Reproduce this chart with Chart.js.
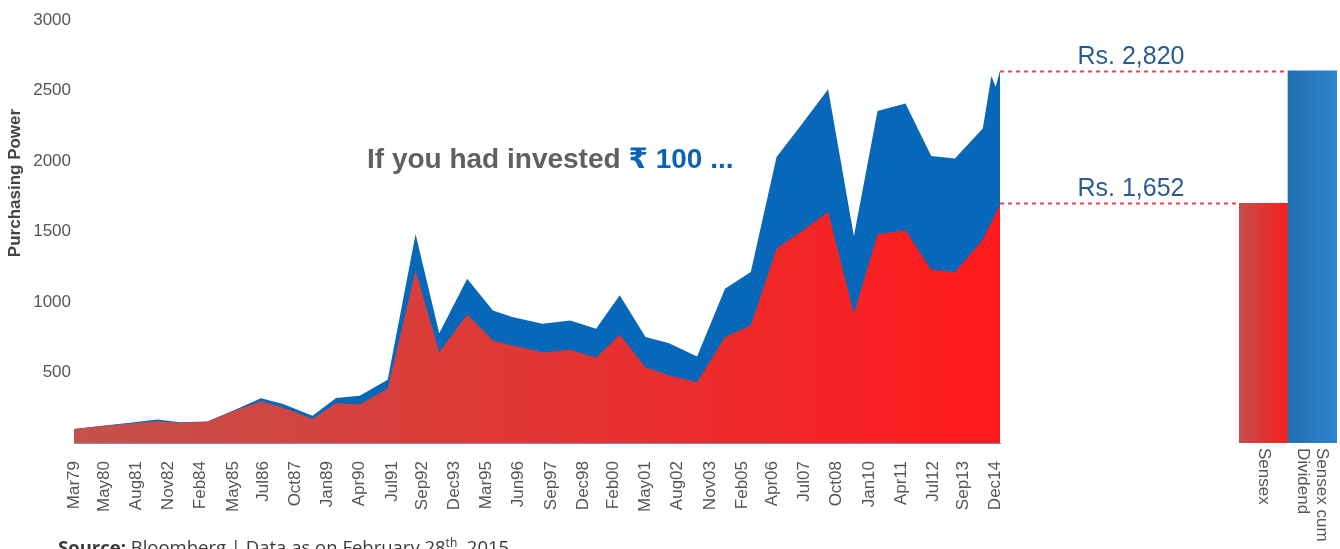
<!DOCTYPE html>
<html lang="en">
<head>
    <meta charset="UTF-8">
    <title>Purchasing Power</title>
    <style>
        html, body { margin: 0; padding: 0; background: #fff; overflow: hidden; }
        #wrap { position: relative; width: 1340px; height: 549px; }
        #areaBox { position: absolute; left: 0; top: 0; }
        #barBox { position: absolute; left: 1000px; top: 0; }
    </style>
</head>
<body>
    <div id="wrap">
        <div id="areaBox"><canvas id="areaChart" width="1010" height="549"></canvas></div>
        <div id="barBox"><canvas id="barChart" width="340" height="549"></canvas></div>
    </div>

    <script src="https://cdn.jsdelivr.net/npm/chart.js"></script>

    <script>
        // months since Mar 1979
        const months = [0, 12, 25, 39, 49, 62, 75, 87, 97, 111, 122, 133, 146, 159, 170, 183, 195, 204, 218, 231,
            243, 254, 266, 277, 290, 303, 315, 327, 339, 351, 363, 374, 387, 399, 410, 423, 427, 429, 431];
        // Sensex
        const sensex = [100, 118, 136, 154, 143, 150, 230, 294, 254, 171, 282, 273, 384, 1224, 644, 912, 727, 692, 644, 661,
            604, 767, 538, 479, 431, 751, 834, 1378, 1505, 1639, 917, 1480, 1509, 1229, 1213, 1442, 1565, 1630, 1690];
        // Sensex cum dividend
        const sensexDiv = [100, 120, 142, 166, 148, 153, 236, 318, 278, 194, 320, 335, 448, 1480, 779, 1165, 940, 893, 846, 869,
            810, 1047, 751, 708, 614, 1094, 1212, 2029, 2266, 2508, 1466, 2354, 2408, 2036, 2018, 2231, 2602, 2527, 2640];

        const tickMonths = [0, 14, 29, 44, 59, 74, 88, 103, 118, 133, 148, 162, 177, 192, 207, 222, 237, 251, 266, 281,
            296, 311, 325, 340, 355, 370, 385, 400, 414, 429];
        const tickLabels = ['Mar79', 'May80', 'Aug81', 'Nov82', 'Feb84', 'May85', 'Jul86', 'Oct87', 'Jan89', 'Apr90',
            'Jul91', 'Sep92', 'Dec93', 'Mar95', 'Jun96', 'Sep97', 'Dec98', 'Feb00', 'May01', 'Aug02',
            'Nov03', 'Feb05', 'Apr06', 'Jul07', 'Oct08', 'Jan10', 'Apr11', 'Jul12', 'Sep13', 'Dec14'];

        // bars on the right
        const barLabels = [['Sensex'], ['Sensex cum', 'Dividend']];
        const barValues = [1700, 2640];
        const barTexts = ['Rs. 1,652', 'Rs. 2,820'];

        Chart.defaults.font.family = '"Liberation Sans", Arial, sans-serif';
        Chart.defaults.font.size = 17;
        Chart.defaults.color = '#555';

        function redFill(c) {
            const a = c.chart.chartArea;
            if (!a) return '#d83a3a';
            const g = c.chart.ctx.createLinearGradient(a.left, 0, a.right, 0);
            g.addColorStop(0, '#c4524c');
            g.addColorStop(1, '#ff191c');
            return g;
        }

        const textPlugin = {
            id: 'texts',
            afterDraw(chart) {
                const ctx = chart.ctx;
                ctx.save();
                // y axis title
                ctx.translate(15, 183);
                ctx.rotate(-Math.PI / 2);
                ctx.font = 'bold 17px "Liberation Sans", Arial, sans-serif';
                ctx.fillStyle = '#444';
                ctx.textAlign = 'center';
                ctx.textBaseline = 'middle';
                ctx.fillText('Purchasing Power', 0, 0);
                ctx.restore();

                ctx.save();
                ctx.textBaseline = 'alphabetic';
                ctx.textAlign = 'left';
                ctx.font = 'bold 28px "Liberation Sans", "DejaVu Sans", sans-serif';
                ctx.fillStyle = '#606060';
                const part1 = 'If you had invested ';
                ctx.fillText(part1, 367, 168);
                const w = ctx.measureText(part1).width;
                ctx.fillStyle = '#0a64b4';
                ctx.fillText('\u20B9 100 ...', 367 + w, 168);

                // source line
                ctx.fillStyle = '#3a3a3a';
                ctx.font = 'bold 18.5px "Open Sans", sans-serif';
                let x = 58;
                ctx.fillText('Source:', x, 554);
                x += ctx.measureText('Source: ').width;
                ctx.font = '18.5px "Open Sans", sans-serif';
                const s1 = 'Bloomberg | Data as on February 28';
                ctx.fillText(s1, x, 554);
                x += ctx.measureText(s1).width;
                ctx.font = '12px "Open Sans", sans-serif';
                ctx.fillText('th', x, 547);
                x += ctx.measureText('th').width;
                ctx.font = '18.5px "Open Sans", sans-serif';
                ctx.fillText(', 2015', x, 554);
                ctx.restore();
            }
        };

        new Chart(document.getElementById('areaChart'), {
            type: 'line',
            data: {
                datasets: [{
                    label: 'Sensex',
                    data: months.map((m, i) => ({ x: m, y: sensex[i] })),
                    backgroundColor: redFill,
                    borderColor: 'rgba(0,0,0,0)',
                    borderWidth: 0,
                    pointRadius: 0,
                    fill: 'origin'
                }, {
                    label: 'Sensex cum Dividend',
                    data: months.map((m, i) => ({ x: m, y: sensexDiv[i] })),
                    backgroundColor: '#0767b8',
                    borderColor: 'rgba(0,0,0,0)',
                    borderWidth: 0,
                    pointRadius: 0,
                    fill: 'origin'
                }]
            },
            options: {
                responsive: false,
                animation: false,
                layout: { padding: { left: 0, right: 10, top: 20, bottom: 0 } },
                plugins: { legend: { display: false }, tooltip: { enabled: false } },
                scales: {
                    x: {
                        type: 'linear',
                        min: 0,
                        max: 431,
                        afterBuildTicks: s => { s.ticks = tickMonths.map(v => ({ value: v })); },
                        afterFit: s => { s.height = 106; s.paddingLeft = 0; s.paddingRight = 0; },
                        grid: { display: false, drawTicks: false },
                        border: { display: true, color: '#9088b4', dash: [2, 2] },
                        ticks: {
                            autoSkip: false,
                            minRotation: 90,
                            maxRotation: 90,
                            padding: 18,
                            callback: (v, i) => tickLabels[i]
                        }
                    },
                    y: {
                        min: 0,
                        max: 3000,
                        afterFit: s => { s.width = 74; },
                        grid: { display: false, drawTicks: false },
                        border: { display: false },
                        ticks: {
                            stepSize: 500,
                            padding: 3,
                            callback: v => v === 0 ? '' : String(v)
                        }
                    }
                }
            },
            plugins: [textPlugin]
        });

        function barFill(c) {
            const a = c.chart.chartArea;
            const i = c.dataIndex;
            if (!a) return i === 0 ? '#de3a36' : '#2a78c0';
            const bw = (a.right - a.left) / barValues.length;
            const x0 = a.left + i * bw;
            const g = c.chart.ctx.createLinearGradient(x0, 0, x0 + bw, 0);
            if (i === 0) {
                g.addColorStop(0, '#c44e4a');
                g.addColorStop(1, '#f81e1e');
            } else {
                g.addColorStop(0, '#236fb0');
                g.addColorStop(1, '#2d84cf');
            }
            return g;
        }

        const barPlugin = {
            id: 'barTexts',
            afterDraw(chart) {
                const ctx = chart.ctx;
                const xs = chart.scales.x;
                const ys = chart.scales.y;
                const a = chart.chartArea;
                const bw = (a.right - a.left) / barValues.length;
                ctx.save();
                // dotted lines and values
                barValues.forEach((v, i) => {
                    const y = Math.round(ys.getPixelForValue(v)) + 0.5;
                    ctx.strokeStyle = '#e5474b';
                    ctx.lineWidth = 2;
                    ctx.setLineDash([4, 4]);
                    ctx.beginPath();
                    ctx.moveTo(0, y);
                    ctx.lineTo(a.left + i * bw, y);
                    ctx.stroke();
                    ctx.setLineDash([]);
                    ctx.fillStyle = '#2a5b90';
                    ctx.font = '25px "Liberation Sans", Arial, sans-serif';
                    ctx.textAlign = 'center';
                    ctx.textBaseline = 'alphabetic';
                    ctx.fillText(barTexts[i], 131, y - 8);
                });
                // category labels, top to bottom
                ctx.fillStyle = '#555';
                ctx.font = '17px "Liberation Sans", Arial, sans-serif';
                ctx.textAlign = 'left';
                ctx.textBaseline = 'middle';
                barLabels.forEach((lines, i) => {
                    const x = xs.getPixelForValue(i);
                    ctx.save();
                    ctx.translate(x, a.bottom + 5);
                    ctx.rotate(Math.PI / 2);
                    lines.forEach((t, k) => {
                        ctx.fillText(t, 0, (k - (lines.length - 1) / 2) * 19);
                    });
                    ctx.restore();
                });
                ctx.restore();
            }
        };

        new Chart(document.getElementById('barChart'), {
            type: 'bar',
            data: {
                labels: barLabels.map(l => l.join(' ')),
                datasets: [{
                    data: barValues,
                    backgroundColor: barFill,
                    borderWidth: 0,
                    categoryPercentage: 1,
                    barPercentage: 1
                }]
            },
            options: {
                responsive: false,
                animation: false,
                layout: { padding: { left: 239, right: 3, top: 20, bottom: 106 } },
                plugins: { legend: { display: false }, tooltip: { enabled: false } },
                scales: {
                    x: { display: false },
                    y: { display: false, min: 0, max: 3000 }
                }
            },
            plugins: [barPlugin]
        });
    </script>
</body>
</html>
